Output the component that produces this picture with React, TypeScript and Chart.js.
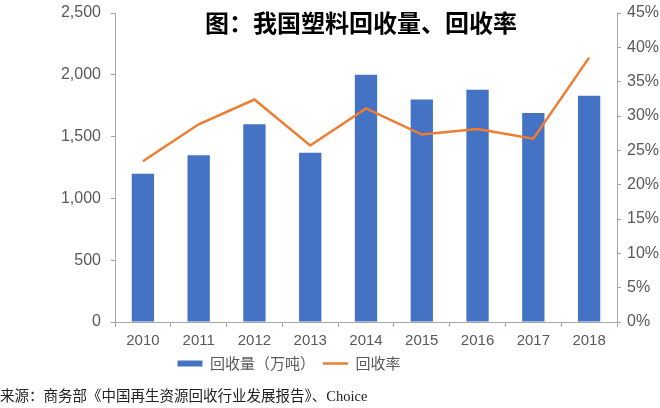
import React, { useEffect, useRef } from "react";
import { Chart, registerables } from "chart.js";

Chart.register(...registerables);

const titleText = "图：我国塑料回收量、回收率";
const sourceText = "来源：商务部《中国再生资源回收行业发展报告》、Choice";
const years = ["2010", "2011", "2012", "2013", "2014", "2015", "2016", "2017", "2018"];
const volumeLabel = "回收量（万吨）";
const rateLabel = "回收率";
const recycleVolume = [1200, 1350, 1600, 1370, 2000, 1800, 1880, 1690, 1830];
const recycleRate = [23.4, 28.8, 32.4, 25.7, 31.1, 27.3, 28.1, 26.7, 38.5];
const leftMin = 0;
const leftMax = 2500;
const leftStep = 500;
const rightMin = 0;
const rightMax = 45;
const rightStep = 5;

const BLUE = "#4472C4";
const ORANGE = "#ED7D31";
const AXIS = "#A6A6A6";
const TICK_COLOR = "#595959";

// Shift the legend so it sits left of center, as in the reference
const legendShift = {
  id: "legendShift",
  afterLayout(chart: any) {
    const l = chart.legend;
    if (!l) return;
    l.left = 0;
    l.right = 578;
    l.width = 578;
  },
};

export default function App() {
  const canvasRef = useRef<HTMLCanvasElement | null>(null);

  useEffect(() => {
    const canvas = canvasRef.current;
    if (!canvas) return;
    const noAxisOverflow = (s: any) => {
      s.paddingTop = 0;
      s.paddingBottom = 0;
    };
    const chart = new Chart(canvas, {
      type: "bar",
      data: {
        labels: years,
        datasets: [
          {
            type: "bar",
            label: volumeLabel,
            data: recycleVolume,
            backgroundColor: BLUE,
            borderWidth: 0,
            yAxisID: "y",
            order: 2,
            barPercentage: 0.4,
            categoryPercentage: 1.0,
            pointStyle: "rect",
          } as any,
          {
            type: "line",
            label: rateLabel,
            data: recycleRate,
            borderColor: ORANGE,
            backgroundColor: ORANGE,
            borderWidth: 2.5,
            pointRadius: 0,
            pointHoverRadius: 0,
            tension: 0,
            yAxisID: "y1",
            order: 1,
            pointStyle: "line",
          } as any,
        ],
      },
      plugins: [legendShift],
      options: {
        responsive: false,
        animation: false,
        layout: { padding: { top: 13, bottom: 27, left: 0, right: 0 } },
        plugins: {
          title: { display: false },
          tooltip: { enabled: false },
          legend: {
            position: "bottom",
            labels: {
              usePointStyle: true,
              pointStyleWidth: 25,
              boxHeight: 6,
              color: TICK_COLOR,
              padding: 8,
              font: { family: "'Noto Sans CJK SC', 'Liberation Sans', sans-serif", size: 15 },
              sort: (a: any, b: any) => a.datasetIndex - b.datasetIndex,
            },
          },
        },
        scales: {
          x: {
            offset: true,
            grid: {
              offset: true,
              drawOnChartArea: false,
              drawTicks: true,
              tickLength: 5,
              color: AXIS,
            },
            border: { display: true, color: AXIS, width: 1 },
            ticks: {
              color: TICK_COLOR,
              padding: 5,
              font: { family: "'Liberation Sans', Arial, sans-serif", size: 15 },
            },
            afterFit: (s: any) => {
              s.height = 26;
            },
          },
          y: {
            position: "left",
            min: leftMin,
            max: leftMax,
            grid: {
              drawOnChartArea: false,
              drawTicks: true,
              tickLength: 4,
              color: AXIS,
            },
            border: { display: true, color: AXIS, width: 1 },
            ticks: {
              stepSize: leftStep,
              color: TICK_COLOR,
              padding: 10,
              font: { family: "'Liberation Sans', Arial, sans-serif", size: 16 },
              callback: (v: any) => Number(v).toLocaleString("en-US"),
            },
            afterFit: (s: any) => {
              s.width = 115;
              noAxisOverflow(s);
            },
          },
          y1: {
            position: "right",
            min: rightMin,
            max: rightMax,
            grid: {
              drawOnChartArea: false,
              drawTicks: true,
              tickLength: 4,
              color: AXIS,
            },
            border: { display: true, color: AXIS, width: 1 },
            ticks: {
              stepSize: rightStep,
              color: TICK_COLOR,
              padding: 6,
              font: { family: "'Liberation Sans', Arial, sans-serif", size: 16 },
              callback: (v: any) => v + "%",
            },
            afterFit: (s: any) => {
              s.width = 43;
              noAxisOverflow(s);
            },
          },
        },
      },
    });
    return () => chart.destroy();
  }, []);

  return (
    <div style={{ position: "absolute", left: 0, top: 0, width: 660, height: 408, overflow: "hidden", background: "#fff" }}>
      <canvas ref={canvasRef} width={660} height={408} style={{ display: "block" }} />
      <div
        style={{
          position: "absolute",
          left: 361,
          top: 10,
          transform: "translateX(-50%)",
          whiteSpace: "nowrap",
          fontFamily: "'Noto Sans CJK SC', sans-serif",
          fontWeight: 700,
          fontSize: 24,
          lineHeight: "24px",
          color: "#000",
        }}
      >
        {titleText}
      </div>
      <div
        style={{
          position: "absolute",
          left: 0,
          top: 387,
          whiteSpace: "nowrap",
          fontFamily: "'Liberation Serif', 'Noto Sans CJK SC', serif",
          fontSize: 14.5,
          lineHeight: "18px",
          color: "#222",
        }}
      >
        {sourceText}
      </div>
    </div>
  );
}
